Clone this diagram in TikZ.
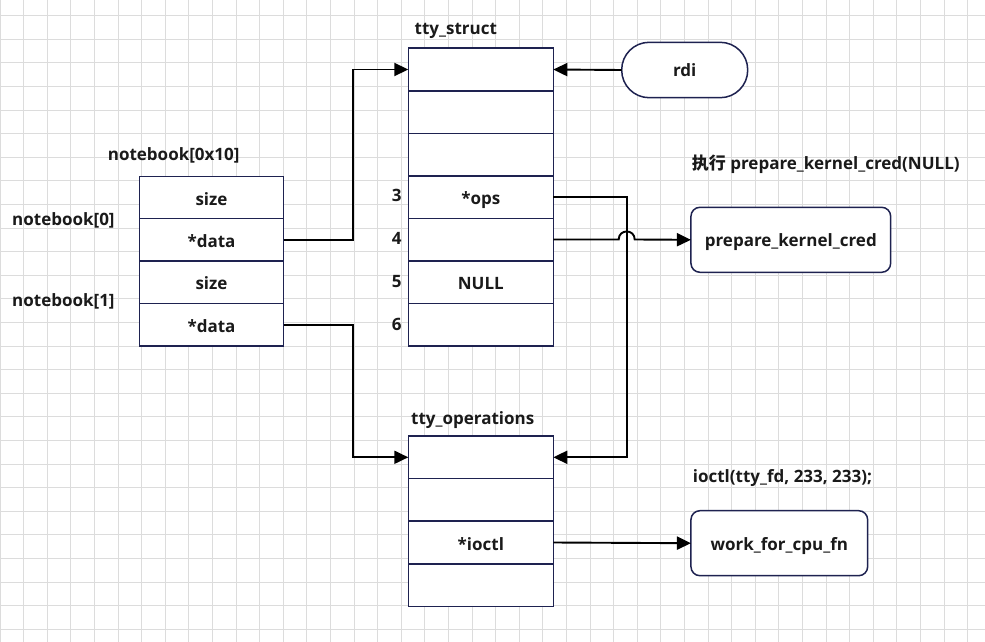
\documentclass[tikz,border=0pt]{standalone}
\usepackage{fontspec}
\setmainfont{Open Sans}
\newfontfamily\cjk{Noto Sans CJK SC}
\usetikzlibrary{arrows.meta}
\definecolor{navy}{HTML}{1E2250}
\definecolor{txt}{HTML}{1A1A1A}
\definecolor{gridc}{HTML}{DCDCDC}
\tikzset{
  fnt/.style={font=\bfseries\fontsize{17}{20}\selectfont, text height=16pt, text depth=1pt},
  cell/.style={draw=navy, line width=1.5pt, fill=white, minimum width=145pt, minimum height=42.5pt, inner sep=0pt, outer sep=0pt, fnt, text=txt},
  nbcell/.style={cell, minimum width=144.4pt, minimum height=42.4pt},
  opcell/.style={cell, minimum height=42.6pt},
  lbl/.style={fnt, text=txt, inner sep=0pt},
  fn/.style={draw=navy, line width=1.5pt, fill=white, rounded corners=9pt, inner sep=0pt, outer sep=0pt, minimum height=65pt, fnt, text height=15pt, text=txt},
  conn/.style={draw=black, line width=1.9pt},
  arr/.style={conn, -{Triangle[length=14pt,width=13pt]}},
}
\begin{document}
\begin{tikzpicture}[x=1pt,y=-1pt]
\useasboundingbox (0,0) rectangle (985,642);
\fill[white] (0,0) rectangle (985,642);
\foreach \i in {0,...,41} \draw[gridc, line width=0.9pt] ({23.6*\i},0) -- ({23.6*\i},642);
\foreach \j in {0,...,26} \draw[gridc, line width=0.9pt] (0,{15.7+23.6*\j}) -- (985,{15.7+23.6*\j});

% notebook
\node[nbcell] (nb1) at (211.5,197.5) {size};
\node[nbcell] (nb2) at (211.5,239.9) {*data};
\node[nbcell] (nb3) at (211.5,282.3) {size};
\node[nbcell] (nb4) at (211.5,324.7) {*data};
\node[lbl] (nbt) at (173.7,152.5) {notebook[0x10]};
\node[lbl, anchor=west] (nb0l) at (12,217.5) {notebook[0]};
\node[lbl, anchor=west] (nb1l) at (12,298.5) {notebook[1]};

% tty_struct
\node[cell] (ts1) at (480.8,69.5) {};
\node[cell] (ts2) at (480.8,112) {};
\node[cell] (ts3) at (480.8,154.5) {};
\node[cell] (ts4) at (480.8,197) {*ops};
\node[cell] (ts5) at (480.8,239.5) {};
\node[cell] (ts6) at (480.8,282) {NULL};
\node[cell] (ts7) at (480.8,324.5) {};
\node[lbl, anchor=west] (tst) at (414.5,27.5) {tty\_struct};
\node[lbl] (n3) at (396.7,194.2) {3};
\node[lbl] (n4) at (396.7,236.5) {4};
\node[lbl] (n5) at (396.7,280.2) {5};
\node[lbl] (n6) at (396.7,322.5) {6};

% tty_operations
\node[opcell] (to1) at (480.8,457.3) {};
\node[opcell] (to2) at (480.8,499.9) {};
\node[opcell] (to3) at (480.8,542.5) {*ioctl};
\node[opcell] (to4) at (480.8,585.1) {};
\node[lbl, anchor=west] (tot) at (411,416.5) {tty\_operations};

% right side
\node[fn, minimum width=126pt, rounded corners=27.5pt, minimum height=55.4pt] (rdi) at (684.7,70) {rdi};
\node[fn, minimum width=199.7pt] (pkc) at (790.8,239.8) {prepare\_kernel\_cred};
\node[fn, minimum width=176.7pt] (wcf) at (779.3,543.2) {work\_for\_cpu\_fn};
\node[lbl, anchor=west] (pkct) at (691.7,161.5) {{\cjk\bfseries 执行} prepare\_kernel\_cred(NULL)};
\node[lbl, anchor=west] (ioct) at (692.7,475.2) {ioctl(tty\_fd, 233, 233);};

% connectors
\coordinate (ja) at (353.3,0);
\coordinate (jb) at (626.7,0);
\draw[arr] (nb2.east) -- (nb2.east -| ja) |- (ts1.west);
\draw[arr] (nb4.east) -- (nb4.east -| ja) |- (to1.west);
\draw[arr] (rdi.west) -- (ts1.east);
\draw[arr] (ts4.east) -- (ts4.east -| jb) |- (to1.east);
\draw[arr] (ts5.east) -- (618.7,239.5) .. controls (618.7,228.8) and (634.7,228.8) .. (634.7,239.5) -- (pkc.west);
\draw[arr] (to3.east) -- (wcf.west);
\end{tikzpicture}
\end{document}
